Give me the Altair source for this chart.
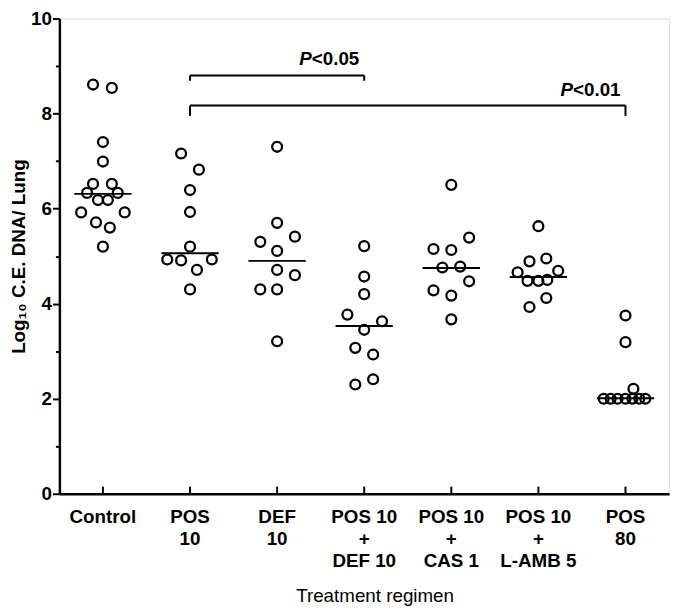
import altair as alt
import pandas as pd

FONT = "Liberation Sans"

categories = ["Control", "POS|10", "DEF|10", "POS 10|+|DEF 10",
              "POS 10|+|CAS 1", "POS 10|+|L-AMB 5", "POS|80"]

control_vals = [8.61, 8.54, 7.40, 6.99, 6.52, 6.52, 6.33, 6.33, 6.18, 6.18, 5.92, 5.92, 5.71, 5.60, 5.20]
control_spread = [-10, 9, 0, 0, -10, 9, -16, 15, -5, 5, -22, 22, -7, 7, 0]
pos10_vals = [7.16, 6.82, 6.39, 5.93, 5.20, 4.93, 4.91, 4.93, 4.71, 4.30]
pos10_spread = [-9, 9, 0, 0, 0, -23, -9, 22, 7, 0]
def10_vals = [7.30, 5.70, 5.30, 5.41, 5.11, 4.71, 4.60, 4.30, 4.30, 3.21]
def10_spread = [0, 0, -17, 18, 0, 0, 18, -17, 0, 0]
posdef_vals = [5.21, 4.57, 4.20, 3.77, 3.63, 3.45, 3.07, 2.93, 2.30, 2.41]
posdef_spread = [0, 0, 0, -17, 18, 0, -9, 9, -9, 9]
poscas_vals = [6.50, 5.39, 5.15, 5.13, 4.76, 4.78, 4.47, 4.28, 4.17, 3.67]
poscas_spread = [0, 18, -18, 0, -9, 9, 18, -18, 0, 0]
posamb_vals = [5.63, 4.89, 4.95, 4.66, 4.69, 4.48, 4.48, 4.50, 4.12, 3.93]
posamb_spread = [0, -9, 8, -21, 20, -11, 0, 9, 8, -9]
pos80_vals = [3.75, 3.19, 2.21, 2.0, 2.0, 2.0, 2.0, 2.0, 2.0, 2.0]
pos80_spread = [0, 0, 8, -22, -15, -8, 0, 7, 14, 20]

medians = [6.31, 5.06, 4.90, 3.53, 4.75, 4.56, 2.01]

bracket_from = ["POS|10", "POS|10"]
bracket_to = ["POS 10|+|DEF 10", "POS|80"]
bracket_y = [8.80, 8.17]
bracket_leg = [8.69, 7.95]
p_values = ["<0.05", "<0.01"]
p_text_y = [9.02, 8.36]

groups_vals = [control_vals, pos10_vals, def10_vals, posdef_vals, poscas_vals, posamb_vals, pos80_vals]
groups_spread = [control_spread, pos10_spread, def10_spread, posdef_spread, poscas_spread, posamb_spread, pos80_spread]

rows = []
for cat, vals, spr in zip(categories, groups_vals, groups_spread):
    for v, s in zip(vals, spr):
        rows.append({"group": cat, "value": v, "spread": s})
points_df = pd.DataFrame(rows)
med_df = pd.DataFrame({"group": categories, "median": medians})
tick_df = pd.DataFrame({"group": categories})
br_df = pd.DataFrame({"from": bracket_from, "to": bracket_to, "y": bracket_y,
                      "leg": bracket_leg, "p": p_values, "ty": p_text_y})

xscale = alt.Scale(domain=categories, paddingInner=0, paddingOuter=0)
xaxis = alt.Axis(
    title="Treatment regimen", titleFontSize=19, titleFontWeight="normal", titleFont=FONT,
    titleColor="black", titlePadding=16, titleX=319,
    labelExpr="split(datum.label, '|')", labelFontSize=19, labelFontWeight="bold",
    labelFont=FONT, labelColor="black", labelLineHeight=22.5, labelPadding=14,
    labelAngle=0, tickSize=0, domainColor="black", domainWidth=2.5,
)
yscale = alt.Scale(domain=[0, 10], nice=False)
yaxis = alt.Axis(
    title="Log\u2081\u2080 C.E.  DNA/ Lung", titleFontSize=19, titleFontWeight="bold",
    titleFont=FONT, titleColor="black", titlePadding=2,
    values=list(range(0, 11)), labelExpr="datum.value % 2 === 0 ? datum.label : ''",
    labelFontSize=19, labelFontWeight="bold", labelFont=FONT, labelColor="black",
    labelPadding=1, tickColor="black", tickWidth=2,
    tickSize={"condition": {"test": "datum.value % 2 === 1", "value": 4}, "value": 7},
    grid=False, domainColor="black", domainWidth=2.5,
)


def X(field):
    return alt.X(field, type="nominal", scale=xscale, axis=xaxis, sort=categories)


pts = alt.Chart(points_df).mark_point(
    shape="circle", filled=False, stroke="black", strokeWidth=2.3, size=100, opacity=1
).encode(
    x=X("group"),
    xOffset=alt.XOffset("spread:Q", scale=alt.Scale(domain=[-44, 44])),
    y=alt.Y("value:Q", scale=yscale, axis=yaxis),
)

med = alt.Chart(med_df).mark_tick(size=58, thickness=2, color="black", opacity=1).encode(
    x=X("group"), y=alt.Y("median:Q", scale=yscale, axis=yaxis)
)

xticks = alt.Chart(tick_df).mark_rule(color="black", strokeWidth=2).encode(
    x=X("group"), y=alt.datum(0, scale=yscale), y2=alt.datum(0.15)
)

br_h = alt.Chart(br_df).mark_rule(color="black", strokeWidth=2).encode(
    x=X("from"), x2="to:N", y=alt.Y("y:Q", scale=yscale, axis=yaxis)
)
br_l = alt.Chart(br_df).mark_rule(color="black", strokeWidth=2).encode(
    x=X("from"), y=alt.Y("y:Q", scale=yscale, axis=yaxis), y2="leg:Q"
)
br_r = alt.Chart(br_df).mark_rule(color="black", strokeWidth=2).encode(
    x=X("to"), y=alt.Y("y:Q", scale=yscale, axis=yaxis), y2="leg:Q"
)
p_num = alt.Chart(br_df).mark_text(
    align="right", baseline="alphabetic", dx=-5, fontSize=19, fontWeight="bold", font=FONT, color="black"
).encode(x=X("to"), y=alt.Y("ty:Q", scale=yscale, axis=yaxis), text="p:N")
p_let = alt.Chart(br_df).mark_text(
    align="right", baseline="alphabetic", dx=-53, fontSize=19, fontWeight="bold",
    fontStyle="italic", font=FONT, color="black", text="P"
).encode(x=X("to"), y=alt.Y("ty:Q", scale=yscale, axis=yaxis))

chart = alt.layer(pts, med, xticks, br_h, br_l, br_r, p_num, p_let).properties(
    width=617, height=481,
    autosize=alt.AutoSizeParams(type="none"),
    padding={"left": 52, "top": 7, "right": 3, "bottom": 113},
).configure_view(stroke="black", strokeWidth=2).configure(background="white")

chart.save("out.html", embed_options={"renderer": "svg", "actions": False})
